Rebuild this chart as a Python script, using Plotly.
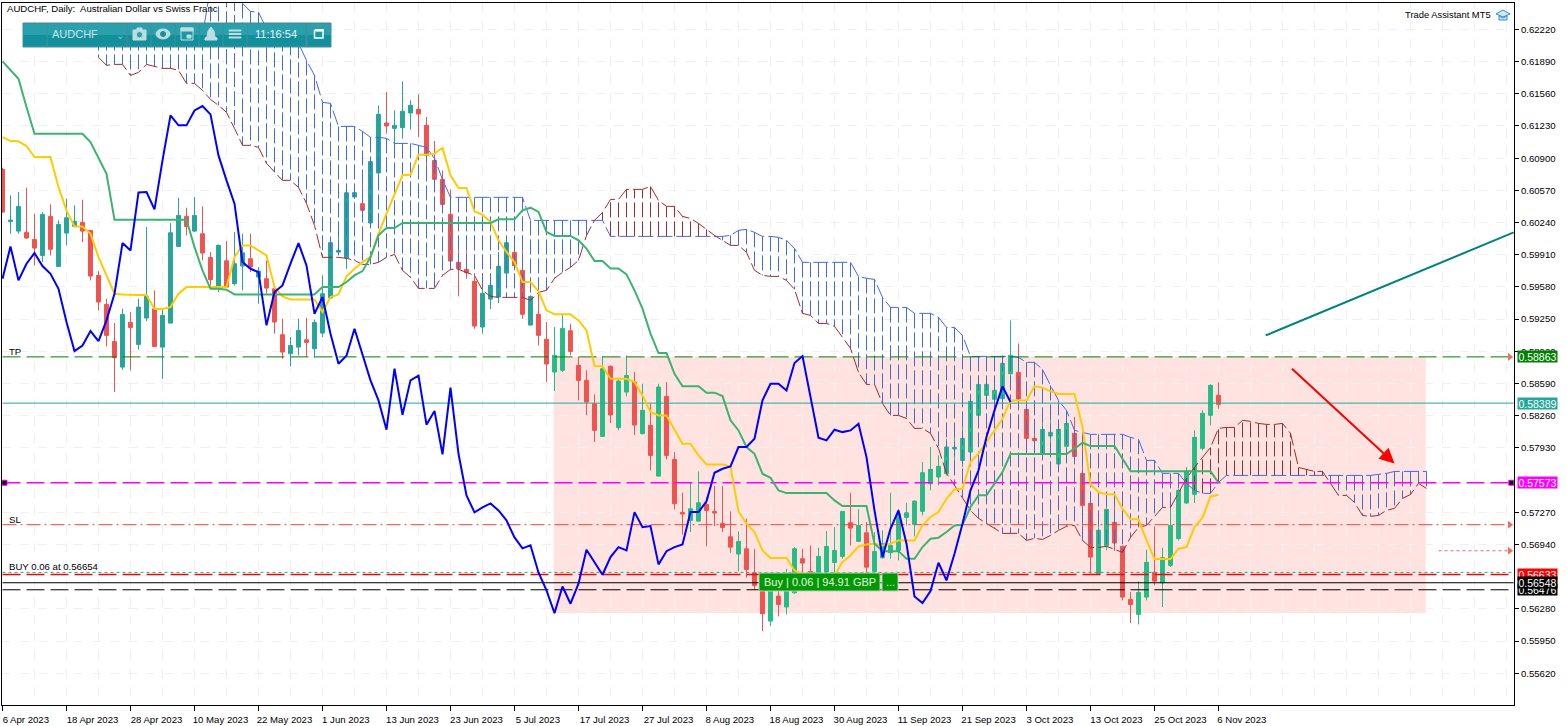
import numpy as np
import plotly.graph_objects as go

# all prices in points (1e-5), bar number 0 is 6 Apr 2023, last real bar 152 is 6 Nov 2023
open_pts = [
    60785, 60250, 60152, 60139, 60067, 59903, 60303, 59790, 60132, 60200,
    60241, 60159, 59698, 59401, 59021, 58758, 59216, 58991, 59261, 59356,
    58963, 59209, 59995, 60303, 60152, 60125, 59882, 59578, 59848, 59613,
    59794, 59869, 59681, 59664, 59561, 59090, 58895, 58963, 59038, 58946,
    59107, 59466, 59937, 59876, 60502, 60433, 60235, 60748, 61260, 61205,
    61212, 61363, 61400, 61236, 60877, 60683, 60324, 59832, 59760, 59637,
    59169, 59456, 59476, 59722, 59934, 59750, 59189, 59299, 59043, 58708,
    58725, 59131, 58776, 58622, 58383, 58048, 58766, 58137, 58503, 58605,
    58076, 58161, 57641, 58458, 57812, 57269, 57187, 57180, 57351, 57279,
    57156, 57019, 56842, 56896, 56650, 56469, 56155, 56411, 56299, 56445,
    56794, 56664, 56640, 56657, 56756, 56818, 57163, 56972, 57060, 56664,
    56804, 56855, 56879, 57218, 57146, 57280, 57563, 57632, 57666, 57919,
    57802, 57888, 58264, 58469, 58428, 58435, 58691, 58704, 58325, 58028,
    57871, 58052, 57765, 57946, 58079, 57669, 57362, 56641, 56928, 57167,
    56921, 56377, 56224, 56401, 56654, 56548, 56726, 57000, 57365, 57454,
    57925, 58264, 58469,
]
high_pts = [
    60800, 60518, 60552, 60597, 60330, 60347, 60426, 60262, 60484, 60416,
    60474, 60159, 59742, 59459, 59209, 59356, 59322, 59459, 60193, 59544,
    59356, 60234, 60494, 60392, 60501, 60405, 59937, 60016, 60050, 60142,
    60125, 60125, 59784, 59852, 59561, 59254, 59066, 59254, 59264, 59244,
    59698, 60040, 60159, 60552, 60570, 60775, 60895, 61441, 61578, 61390,
    61687, 61492, 61554, 61322, 61076, 60775, 60577, 59955, 59955, 59699,
    59716, 59716, 59938, 60040, 59962, 59955, 59493, 59545, 59220, 59169,
    59306, 59203, 58861, 58725, 58479, 58872, 58776, 58639, 58878, 58708,
    58588, 58383, 58588, 58605, 57887, 57470, 57580, 57689, 57426, 57539,
    57539, 57279, 57074, 57204, 56896, 56520, 56503, 56486, 56691, 56913,
    56896, 56930, 56907, 57078, 57118, 57279, 57470, 57300, 57170, 57067,
    57084, 57470, 57306, 57368, 57392, 57785, 57939, 57854, 58024, 58042,
    58178, 58486, 58674, 58622, 58605, 58879, 59237, 59000, 58417, 58229,
    58212, 58247, 58161, 58212, 58247, 58076, 57392, 57204, 57409, 57375,
    56931, 56453, 56562, 56887, 57126, 56907, 57324, 57512, 57734, 58110,
    58315, 58581, 58602,
]
low_pts = [
    60340, 60125, 60125, 60074, 59800, 59835, 59903, 59784, 60005, 60193,
    60040, 59647, 59339, 58970, 58502, 58731, 58724, 58939, 59230, 58963,
    58639, 59209, 59995, 60108, 60142, 59852, 59595, 59527, 59578, 59595,
    59544, 59732, 59408, 59510, 59100, 58844, 58769, 58878, 58861, 58854,
    59066, 59459, 59920, 59766, 60484, 60279, 60228, 60672, 61151, 61048,
    61100, 61192, 61117, 60724, 60638, 60348, 59750, 59483, 59664, 59152,
    59101, 59353, 59415, 59579, 59750, 59254, 59186, 58981, 58605, 58513,
    58708, 58878, 58417, 58264, 57990, 58041, 58185, 58110, 58458, 58062,
    58069, 57699, 57638, 57812, 57300, 57043, 57067, 57177, 56920, 57129,
    57067, 56855, 56664, 56599, 56476, 56052, 56104, 56203, 56223, 56435,
    56640, 56572, 56589, 56640, 56640, 56794, 56931, 56965, 56640, 56640,
    56794, 56794, 56777, 57136, 57023, 57239, 57495, 57546, 57649, 57734,
    57734, 57871, 58161, 58349, 58383, 58417, 58674, 58400, 57922, 57932,
    57864, 57973, 57761, 57871, 57802, 57051, 56641, 56634, 56880, 56873,
    56367, 56135, 56121, 56367, 56521, 56299, 56709, 56982, 57358, 57365,
    57905, 58161, 58332,
]
close_pts = [
    60347, 60265, 60405, 60081, 59978, 60323, 59965, 60221, 60289, 60252,
    60152, 59691, 59425, 59083, 58854, 59298, 59165, 59373, 59483, 58970,
    59288, 60135, 60313, 60200, 60313, 59927, 59654, 60005, 59578, 59818,
    59930, 59784, 59742, 59568, 59220, 58912, 58980, 59134, 59011, 59216,
    59510, 60033, 59954, 60545, 60546, 60365, 60864, 61349, 61229, 61236,
    61380, 61441, 61352, 60929, 60683, 60426, 59845, 59767, 59726, 59179,
    59514, 59596, 59791, 60033, 59798, 59299, 59483, 59084, 58790, 58878,
    59155, 58919, 58622, 58400, 58110, 58742, 58267, 58615, 58673, 58164,
    58315, 57853, 58554, 57853, 57358, 57252, 57306, 57368, 57289, 57262,
    57115, 56913, 56972, 56684, 56520, 56230, 56462, 56326, 56469, 56896,
    56750, 56640, 56818, 56920, 56879, 57279, 57108, 57136, 56708, 56869,
    56948, 56931, 57255, 57265, 57385, 57676, 57710, 57741, 57939, 57936,
    58028, 58407, 58581, 58581, 58520, 58797, 58879, 58431, 58028, 58004,
    58120, 58089, 58120, 58182, 57843, 57341, 56811, 57085, 57300, 56955,
    56401, 56326, 56449, 56757, 56565, 56805, 57136, 57495, 57693, 58038,
    58284, 58571, 58376,
]
tenkan_pts = [
    61116, 61075, 61072, 61024, 60911, 60911, 60911, 60603, 60364, 60200,
    60200, 60125, 59886, 59698, 59510, 59503, 59496, 59496, 59496, 59353,
    59353, 59373, 59510, 59578, 59578, 59578, 59578, 59578, 59578, 59886,
    60005, 60005, 59954, 59903, 59578, 59483, 59452, 59452, 59452, 59452,
    59322, 59476, 59503, 59688, 59767, 59835, 59886, 60126, 60331, 60519,
    60724, 60730, 60935, 60935, 60946, 61004, 60724, 60594, 60594, 60355,
    60320, 60245, 60057, 59938, 59835, 59630, 59630, 59535, 59340, 59299,
    59299, 59299, 59237, 59135, 58769, 58766, 58639, 58639, 58639, 58605,
    58468, 58298, 58263, 58263, 58110, 57973, 57973, 57853, 57761, 57761,
    57761, 57740, 57279, 57153, 57067, 56879, 56801, 56801, 56801, 56674,
    56640, 56640, 56606, 56606, 56623, 56760, 56828, 56920, 56941, 56948,
    56931, 56948, 56982, 56982, 56982, 57136, 57222, 57273, 57409, 57505,
    57512, 57785, 57871, 57990, 58110, 58229, 58417, 58417, 58417, 58561,
    58547, 58510, 58482, 58482, 58482, 58144, 57556, 57478, 57454, 57454,
    57307, 57198, 57198, 56982, 56791, 56791, 56791, 56897, 56914, 57119,
    57215, 57433, 57450,
]
kijun_pts = [
    61892, 61799, 61714, 61424, 61150, 61150, 61150, 61150, 61150, 61150,
    61150, 61065, 60894, 60740, 60269, 60269, 60269, 60269, 60269, 60269,
    60269, 60269, 60269, 60269, 59988, 59749, 59561, 59561, 59551, 59503,
    59503, 59503, 59503, 59503, 59503, 59503, 59503, 59503, 59503, 59503,
    59578, 59578, 59578, 59630, 59698, 59742, 59886, 60109, 60184, 60184,
    60235, 60235, 60235, 60235, 60235, 60235, 60235, 60235, 60235, 60235,
    60235, 60235, 60273, 60273, 60273, 60365, 60392, 60348, 60143, 60102,
    60102, 60102, 60057, 59972, 59845, 59845, 59770, 59770, 59709, 59545,
    59357, 59101, 58902, 58902, 58690, 58561, 58561, 58561, 58496, 58496,
    58461, 58212, 58109, 57939, 57870, 57665, 57624, 57494, 57467, 57467,
    57467, 57467, 57467, 57467, 57392, 57334, 57334, 57334, 57334, 56948,
    56872, 56872, 56872, 56794, 56794, 56914, 56999, 57010, 57068, 57136,
    57143, 57324, 57444, 57444, 57563, 57683, 57867, 57867, 57867, 57867,
    57867, 57867, 57867, 57867, 57922, 57983, 57949, 57949, 57949, 57949,
    57819, 57690, 57690, 57690, 57690, 57690, 57690, 57690, 57690, 57690,
    57690, 57690, 57573,
]
# chikou runs from bar 0 to bar 126
chikou_pts = [
    59664, 59995, 59647, 59818, 59927, 59794, 59715, 59561, 59220, 58922,
    58980, 59127, 59025, 59237, 59510, 60029, 59954, 60549, 60552, 60375,
    60877, 61338, 61236, 61236, 61389, 61434, 61348, 60928, 60672, 60433,
    59835, 59766, 59732, 59186, 59527, 59595, 59818, 60029, 59800, 59305,
    59476, 59100, 58793, 58875, 59152, 58896, 58622, 58417, 58117, 58742,
    58270, 58622, 58670, 58168, 58308, 57864, 58547, 57870, 57443, 57269,
    57320, 57361, 57289, 57187, 57013, 56900, 56931, 56654, 56470, 56237,
    56510, 56333, 56538, 56886, 56760, 56630, 56811, 56913, 56879, 57272,
    57118, 57129, 56736, 56872, 56913, 56941, 57272, 57272, 57382, 57675,
    57716, 57740, 57939, 57939, 58024, 58417, 58588, 58588, 58519, 58800,
    58871, 58434, 58034, 58007, 58116, 58092, 58109, 58178, 57836, 57289,
    56811, 57101, 57289, 56948, 56408, 56340, 56463, 56753, 56572, 56846,
    57153, 57495, 57700, 58042, 58315, 58561, 58400,
]
# cloud runs from bar 12 to bar 178
senkou_start = 12
senkou_a_pts = [
    62158, 62158, 62158, 62158, 62158, 62158, 62158, 62158, 62158, 62158,
    62158, 62158, 62158, 62158, 62650, 62650, 62600, 62560, 62486, 62404,
    62394, 62230, 62179, 62148, 62107, 62076, 61902, 61748, 61472, 61461,
    61225, 61225, 61225, 61174, 61113, 61113, 61103, 61051, 61051, 61051,
    61031, 61010, 60897, 60682, 60498, 60498, 60498, 60498, 60498, 60498,
    60498, 60498, 60498, 60498, 60262, 60262, 60262, 60262, 60262, 60262,
    60262, 60262, 60262, 60262, 60098, 60098, 60098, 60098, 60098, 60098,
    60098, 60098, 60098, 60098, 60098, 60098, 60098, 60098, 60098, 60108,
    60160, 60170, 60139, 60098, 60098, 60088, 60057, 59975, 59832, 59832,
    59832, 59832, 59832, 59832, 59832, 59688, 59668, 59657, 59473, 59370,
    59370, 59370, 59309, 59309, 59309, 59268, 59165, 59165, 59083, 58868,
    58868, 58868, 58868, 58868, 58868, 58858, 58807, 58807, 58735, 58571,
    58417, 58315, 58110, 58089, 58069, 58069, 58069, 58069, 58069, 58038,
    58017, 57802, 57802, 57669, 57669, 57669, 57566, 57495, 57464, 57464,
    57577, 57648, 57648, 57648, 57648, 57648, 57648, 57648, 57648, 57648,
    57648, 57648, 57648, 57648, 57648, 57648, 57648, 57648, 57648, 57648,
    57659, 57669, 57689, 57689, 57689, 57689, 57689,
]
senkou_b_pts = [
    61933, 61851, 61861, 61861, 61748, 61779, 61861, 61840, 61820, 61820,
    61800, 61666, 61666, 61594, 61502, 61441, 61369, 61205, 61031, 61031,
    61010, 60846, 60754, 60672, 60672, 60600, 60436, 60211, 59883, 59883,
    59883, 59873, 59852, 59811, 59811, 59832, 59883, 59913, 59750, 59678,
    59565, 59565, 59565, 59698, 59760, 59760, 59729, 59698, 59545, 59483,
    59473, 59473, 59473, 59473, 59442, 59524, 59545, 59668, 59729, 59780,
    59852, 60108, 60262, 60344, 60477, 60477, 60580, 60580, 60580, 60610,
    60467, 60406, 60406, 60303, 60282, 60231, 60170, 60108, 60057, 60006,
    60006, 59934, 59750, 59698, 59688, 59688, 59647, 59555, 59309, 59288,
    59206, 59206, 59176, 59063, 58950, 58704, 58581, 58581, 58386, 58263,
    58263, 58232, 58130, 58130, 58079, 57925, 57669, 57546, 57423, 57290,
    57208, 57156, 57105, 57054, 57054, 57054, 56982, 57003, 56992, 57033,
    57085, 57126, 57136, 56982, 56910, 56910, 56921, 56890, 56859, 57013,
    57115, 57136, 57228, 57320, 57320, 57474, 57617, 57730, 57833, 57935,
    58130, 58140, 58140, 58212, 58202, 58181, 58171, 58171, 58181, 58079,
    57730, 57710, 57689, 57689, 57566, 57443, 57443, 57371, 57238, 57228,
    57238, 57290, 57310, 57412, 57453, 57566, 57515,
]

date_labels = ['6 Apr 2023', '18 Apr 2023', '28 Apr 2023', '10 May 2023', '22 May 2023', '1 Jun 2023',
               '13 Jun 2023', '23 Jun 2023', '5 Jul 2023', '17 Jul 2023', '27 Jul 2023', '8 Aug 2023',
               '18 Aug 2023', '30 Aug 2023', '11 Sep 2023', '21 Sep 2023', '3 Oct 2023', '13 Oct 2023',
               '25 Oct 2023', '6 Nov 2023']
date_bars = list(range(0, 160, 8))
price_ticks = [0.6222, 0.6189, 0.6156, 0.6123, 0.609, 0.6057, 0.6024, 0.5991, 0.5958, 0.5925, 0.5892,
               0.5859, 0.5826, 0.5793, 0.5727, 0.5694, 0.5628, 0.5595, 0.5562]

tp_level = 0.58863
current_level = 0.58389
magenta_level = 0.57573
sl_level = 0.57143
extra_level = 0.56876
buy_level = 0.56654
red_level = 0.56633
bid_level = 0.56548
low_level = 0.56476
zone_bottom = 0.56237
zone_bars = [68.9, 177.9]
trend_bars = [157.9, 188.9]
trend_prices = [0.59083, 0.60139]
arrow_bars = [161, 174]
arrow_prices = [0.58755, 0.57771]

# half a pixel left of bar 0, so the 1px wicks fall on whole pixels
X_RANGE = [-0.0625, 188.9375]
Y_RANGE = [0.55295, 0.6249]
TEAL = '#26A69A'
ZONE_GREEN = '#26BC86'
RED = '#EF5350'
FONT = 'Liberation Sans'
DASH = '18px,6px'
HATCH = '15px,4px'


def px(x):
    return (x - 2) / 1512


def py(y):
    return 1 - (y - 3) / 702


def prices(pts):
    return np.array(pts) / 1e5


def add_candles(fig, start, end, up_color):
    bars = list(range(start, end))
    fig.add_trace(go.Candlestick(
        x=bars, open=prices(open_pts[start:end]), high=prices(high_pts[start:end]),
        low=prices(low_pts[start:end]), close=prices(close_pts[start:end]),
        increasing=dict(line=dict(color=up_color, width=1), fillcolor=up_color),
        decreasing=dict(line=dict(color=RED, width=1), fillcolor=RED),
        whiskerwidth=0, showlegend=False))


def add_level(fig, level, color, dash, width=1, bars=(0, 188.4)):
    fig.add_trace(go.Scatter(x=list(bars), y=[level, level], mode='lines', showlegend=False,
                             line=dict(color=color, width=width, dash=dash)))


def add_hatch(fig, color, is_up):
    xs, ys = [], []
    for n, (a, b) in enumerate(zip(senkou_a_pts, senkou_b_pts)):
        if (a >= b) == is_up:
            xs += [senkou_start + n, senkou_start + n, None]
            ys += [a / 1e5, b / 1e5, None]
    fig.add_trace(go.Scatter(x=xs, y=ys, mode='lines', showlegend=False,
                             line=dict(color=color, width=1, dash=HATCH)))


def box(x0, y0, x1, y1, fill, line=None, width=1):
    return dict(type='rect', xref='paper', yref='paper', x0=px(x0), x1=px(x1), y0=py(y0), y1=py(y1),
                fillcolor=fill, line=dict(color=line or fill, width=width), layer='above')


def blob(x0, y0, x1, y1, fill, line=None):
    shape = box(x0, y0, x1, y1, fill, line)
    shape['type'] = 'circle'
    return shape


def outline(points, fill, line):
    path = 'M ' + ' L '.join(f'{px(x):.5f},{py(y):.5f}' for x, y in points) + ' Z'
    return dict(type='path', xref='paper', yref='paper', path=path, fillcolor=fill,
                line=dict(color=line, width=1), layer='above')


def toolbar_shapes():
    shapes = [box(23, 23, 331, 47, '#3f8f9a')]
    buttons = [(24, 46), (48, 126), (128, 150), (152, 174), (176, 198), (200, 222), (224, 246), (248, 305), (308, 330)]
    for x0, x1 in buttons:
        shapes.append(box(x0, 24.5, x1, 35.5, '#2AA0AC'))
        shapes.append(box(x0, 35.5, x1, 45.5, '#12909C'))
    icon = '#BFDDE1'
    # camera
    shapes += [box(133, 30, 146, 40, icon), box(137, 28, 142, 30, icon), blob(136.5, 31.5, 142.5, 38, '#2AA0AC', icon)]
    # eye
    shapes += [blob(156, 29, 170, 39, icon), blob(160.5, 31.5, 165.5, 36.5, '#12909C')]
    # calendar
    shapes += [box(181, 28, 193, 40, '#1A98A4', icon), box(181, 28, 193, 31, icon), box(187, 35, 191, 38, icon)]
    # bell
    shapes += [outline([(211, 27), (214, 31), (215, 37), (217, 38), (217, 40), (205, 40), (205, 38), (207, 37), (208, 31)],
                       icon, icon)]
    # menu
    shapes += [box(229, 30, 241, 31, icon), box(229, 33.5, 241, 34.5, icon), box(229, 37, 241, 38, icon)]
    # window
    shapes += [box(314.5, 30.5, 323, 38, '#1A98A4', 'white', 1.5), box(315.5, 29.5, 323.5, 31, 'white')]
    return shapes


def text(x, y, label, size=9.6, color='black', anchor='left', family=FONT):
    return dict(xref='paper', yref='paper', x=px(x), y=py(y), text=label, showarrow=False, xanchor=anchor,
                yanchor='middle', font=dict(family=family, size=size, color=color), borderpad=0)


def price_tag(level, color):
    return dict(xref='paper', yref='y', x=1, y=level, xshift=3, text=f'{level:.5f}', showarrow=False,
                xanchor='left', yanchor='middle', width=39, height=11, bgcolor=color, borderpad=0,
                font=dict(family=FONT, size=10.5, color='white'))


fig = go.Figure()
add_hatch(fig, '#4169E1', True)
add_hatch(fig, '#A52A2A', False)

senkou_bars = list(range(senkou_start, senkou_start + len(senkou_a_pts)))
fig.add_trace(go.Scatter(x=senkou_bars, y=prices(senkou_a_pts), mode='lines', showlegend=False,
                         line=dict(color='#4169E1', width=1, dash=HATCH)))
fig.add_trace(go.Scatter(x=senkou_bars, y=prices(senkou_b_pts), mode='lines', showlegend=False,
                         line=dict(color='#A52A2A', width=1, dash=HATCH)))

add_level(fig, tp_level, '#008000', DASH)
add_level(fig, current_level, TEAL, 'solid', bars=(0, 188.9))
add_level(fig, magenta_level, '#FF00FF', DASH, width=1.5)
add_level(fig, sl_level, '#F44336', '14px,4px,2px,4px')
add_level(fig, extra_level, '#F4665A', '3px,3px', bars=(179.5, 188.4))
add_level(fig, buy_level, TEAL, '3px,3px', bars=(0, 188.9))
add_level(fig, red_level, '#FF0000', DASH, width=1.5)
add_level(fig, bid_level, 'black', 'solid', bars=(0, 188.9))
add_level(fig, low_level, 'black', DASH)

add_candles(fig, 0, 69, TEAL)
add_candles(fig, 69, len(open_pts), ZONE_GREEN)

fig.add_trace(go.Scatter(x=list(range(len(tenkan_pts))), y=prices(tenkan_pts), mode='lines', showlegend=False,
                         line=dict(color='#FFCC00', width=2)))
fig.add_trace(go.Scatter(x=list(range(len(kijun_pts))), y=prices(kijun_pts), mode='lines', showlegend=False,
                         line=dict(color='#3CB371', width=2)))
fig.add_trace(go.Scatter(x=list(range(len(chikou_pts))), y=prices(chikou_pts), mode='lines', showlegend=False,
                         line=dict(color='#0000FF', width=2)))
fig.add_trace(go.Scatter(x=trend_bars, y=trend_prices, mode='lines', showlegend=False,
                         line=dict(color='#008080', width=2)))

# small arrows at the right end of the order lines
fig.add_trace(go.Scatter(x=[188.4, 188.4, 188.4], y=[tp_level, sl_level, extra_level], mode='markers',
                         showlegend=False, marker=dict(symbol='triangle-right', size=7, color='#F0705F')))
fig.add_trace(go.Scatter(x=[188.6, 0.25], y=[magenta_level, magenta_level], mode='markers', showlegend=False,
                         marker=dict(symbol='square', size=5, color='black', line=dict(color='#FF00FF', width=1))))

shapes = [dict(type='rect', xref='x', yref='y', x0=zone_bars[0], x1=zone_bars[1], y0=zone_bottom, y1=tp_level,
               fillcolor='#FEE3E0', line=dict(width=0), layer='below')]
shapes += toolbar_shapes()
# order label
shapes += [box(759, 573, 880, 591, '#009900', '#B9CFC0', 1), box(882, 573, 898, 591, '#009900', '#B9CFC0', 1)]
# cap icon next to the label
shapes += [outline([(1496, 14), (1503, 10), (1510, 14), (1503, 17)], '#CFE8F7', '#2E8FCF'),
           outline([(1499, 16), (1499, 20), (1507, 20), (1507, 16), (1503, 18)], '#CFE8F7', '#2E8FCF')]

annotations = [
    text(6, 9, 'AUDCHF, Daily:  Australian Dollar vs Swiss Franc'),
    text(1492, 14, 'Trade Assistant MT5', size=9.4, anchor='right'),
    text(8, 352, 'TP'),
    text(8, 519, 'SL'),
    text(8, 566.5, 'BUY 0.06 at 0.56654'),
    text(51, 34.5, 'AUDCHF', size=11, color='#C4E4E8'),
    text(115, 35, '⌄', size=10, color='#8CC6CE'),
    text(276, 34.5, '11:16:54', size=11, color='#E4F4F5', anchor='center'),
    text(819.5, 582, 'Buy | 0.06 | 94.91 GBP', size=11, color='#E9F7E9', anchor='center'),
    text(890, 582, '...', size=11, color='#E9F7E9', anchor='center'),
    dict(x=arrow_bars[1], y=arrow_prices[1], ax=arrow_bars[0], ay=arrow_prices[0], xref='x', yref='y', axref='x',
         ayref='y', showarrow=True, arrowhead=2, arrowsize=1.5, arrowwidth=2, arrowcolor='#FF0000', text=''),
    price_tag(tp_level, '#008000'),
    price_tag(current_level, TEAL),
    price_tag(magenta_level, '#FF00FF'),
    price_tag(red_level, '#FF0000'),
    price_tag(low_level, 'black'),
    price_tag(bid_level, 'black'),
]

fig.update_layout(
    width=1567, height=726, margin=dict(l=2, r=53, t=3, b=21, pad=0, autoexpand=False),
    paper_bgcolor='white', plot_bgcolor='white', showlegend=False, boxgap=0.3,
    font=dict(family=FONT, size=9.6, color='black'), shapes=shapes, annotations=annotations,
    xaxis=dict(
        type='linear', range=X_RANGE, rangeslider=dict(visible=False), tickmode='array', tickvals=date_bars,
        ticktext=[d + '\u00a0\u00a0' if d[1] == ' ' else d for d in date_labels], ticks='outside', ticklen=5,
        tickcolor='black', tickangle=0, ticklabelshift=26, showgrid=True, gridcolor='#F0F0F0', griddash='dash',
        minor=dict(dtick=4, tick0=0, showgrid=True, gridcolor='#F0F0F0', griddash='dash', ticks=''),
        zeroline=False, showline=True, linecolor='black', linewidth=1, mirror=True,
        tickfont=dict(family=FONT, size=9.6),
    ),
    yaxis=dict(
        side='right', range=Y_RANGE, tickmode='array', tickvals=price_ticks, tickformat='.5f', ticks='outside',
        ticklen=4, tickcolor='black', showgrid=True, gridcolor='#F0F0F0', griddash='dash', zeroline=False,
        showline=True, linecolor='black', linewidth=1, mirror=True, tickfont=dict(family=FONT, size=9.6),
    ),
)

fig.write_html("out.html", config={'displayModeBar': False},
               post_script="document.body.style.margin='0';document.body.style.overflow='hidden';")
